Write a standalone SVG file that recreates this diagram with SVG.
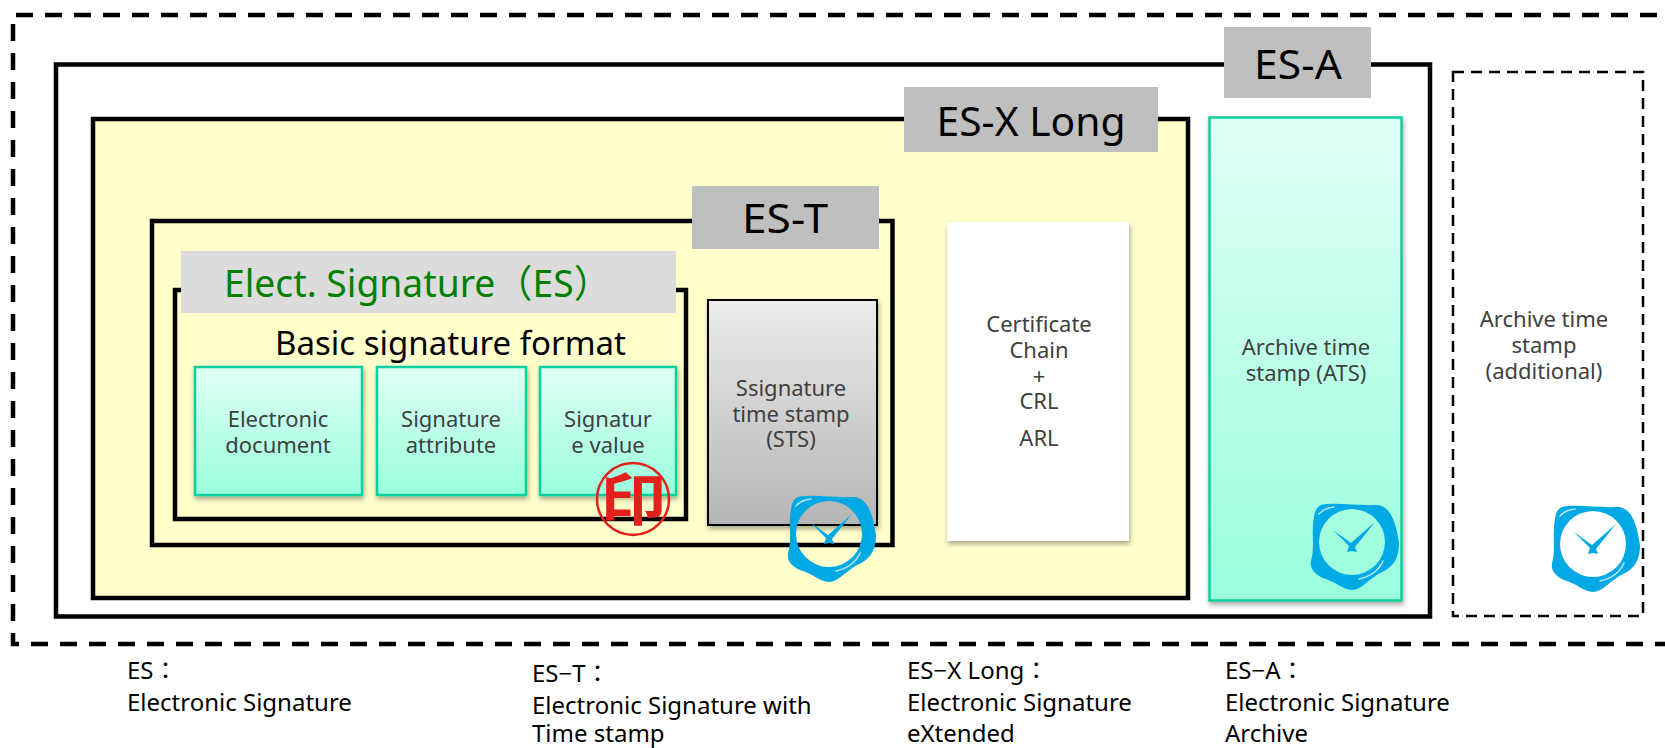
<svg xmlns="http://www.w3.org/2000/svg" xmlns:xlink="http://www.w3.org/1999/xlink" width="1665" height="748" viewBox="0 0 1665 748">
<style>
text{font-family:"Noto Sans","Liberation Sans","Noto Sans CJK JP",sans-serif}
.frame{fill:none;stroke:#000;stroke-width:4.5}
.tag{fill:#bfbfbf}
.big{font-size:40px;fill:#000;text-anchor:middle}
.cell{fill:url(#mint);stroke:#0fd0a0;stroke-width:2.5;filter:url(#sh)}
.t{font-size:22px;fill:#404040;text-anchor:middle}
.note{font-size:24px;fill:#000;font-family:"Noto Sans","Noto Sans CJK JP",sans-serif}
</style>
<defs>
<linearGradient id="mint" x1="0" y1="0" x2="0" y2="1"><stop offset="0" stop-color="#e0fff3"/><stop offset="1" stop-color="#99ffdc"/></linearGradient>
<linearGradient id="grey" x1="0" y1="0" x2="0" y2="1"><stop offset="0" stop-color="#ececec"/><stop offset="1" stop-color="#b5b5b5"/></linearGradient>
<filter id="sh" x="-10%" y="-10%" width="120%" height="120%"><feDropShadow dx="1" dy="3" stdDeviation="2.5" flood-color="#000" flood-opacity=".35"/></filter>
<g id="clock">
<path fill="#00a9e3" fill-rule="evenodd" d="M10 2C25 -1 45 3 66 2C80 3 85 20 88 40C88 60 78 66 69 70C58 76 50 87 41 87C32 87 24 78 12 75C2 70 -1 65 0 58C4 45 0 30 3 14C4 7 6 4 10 2ZM41 6A33 33 0 1 0 41 72A33 33 0 1 0 41 6Z"/>
<path fill="none" stroke="#fff" stroke-opacity=".7" stroke-width="1.6" stroke-linecap="round" d="M8 11Q13 5 23 4M48 76Q66 72 72 58"/>
<path fill="#00a9e3" d="M64 19L44 44L46 49L41 48L36 49L38 43L22 27L40 40Z"/>
</g>
</defs>
<rect width="1665" height="748" fill="#fff"/>
<g id="outer-frame"><path fill="none" stroke="#000" stroke-width="4.5" stroke-dasharray="17 12" d="M16 15H1665M13 24V644H1665"/></g>
<g id="es-a">
<rect class="frame" x="56" y="64.500" width="1374" height="552"/>
<rect x="1224" y="27" width="147" height="71" class="tag"/>
<text x="1298" y="79" class="big" textLength="88" lengthAdjust="spacingAndGlyphs">ES-A</text>
</g>
<g id="es-x-long">
<rect x="93" y="119" width="1095" height="479" fill="#ffffcc" stroke="#000" stroke-width="4.500"/>
<rect x="904" y="87" width="254" height="65" class="tag"/>
<text x="1031" y="136" class="big" textLength="189" lengthAdjust="spacingAndGlyphs">ES-X Long</text>
</g>
<g id="es-t">
<rect class="frame" x="152" y="221" width="740.500" height="324"/>
<rect x="692" y="186" width="187" height="63" class="tag"/>
<text x="785" y="233" class="big" textLength="86" lengthAdjust="spacingAndGlyphs">ES-T</text>
</g>
<g id="es">
<rect class="frame" x="175" y="290" width="511" height="229"/>
<rect x="181" y="251" width="495" height="62" fill="#dcdcdc"/>
<text x="224" y="297" font-size="38" fill="#008000" textLength="387" lengthAdjust="spacingAndGlyphs" style="font-family:'Noto Sans','Noto Sans CJK JP',sans-serif">Elect. Signature（ES）</text>
<text x="275" y="355" font-size="33" fill="#000" textLength="351" lengthAdjust="spacingAndGlyphs">Basic signature format</text>
</g>
<g id="electronic-document">
<rect class="cell" x="195" y="367" width="167" height="128"/>
<text class="t" x="278" y="427">Electronic</text><text class="t" x="278" y="453">document</text>
</g>
<g id="signature-attribute">
<rect class="cell" x="377" y="367" width="149" height="128"/>
<text class="t" x="451" y="427">Signature</text><text class="t" x="451" y="453">attribute</text>
</g>
<g id="signature-value">
<rect class="cell" x="540" y="367" width="136" height="128"/>
<text class="t" x="608" y="427">Signatur</text><text class="t" x="608" y="453">e value</text>
</g>
<g id="seal">
<ellipse cx="633" cy="499" rx="36" ry="36" fill="none" stroke="#e3201b" stroke-width="2.500"/>
<text x="633" y="520" font-size="56" font-weight="700" fill="#e3201b" text-anchor="middle" textLength="66" lengthAdjust="spacingAndGlyphs" style="font-family:'Noto Sans CJK JP',sans-serif">印</text>
</g>
<g id="sts">
<rect x="708" y="300" width="169" height="225" fill="url(#grey)" stroke="#000" stroke-width="2" filter="url(#sh)"/>
<text class="t" x="791" y="396">Ssignature</text><text class="t" x="791" y="422">time stamp</text><text class="t" x="791" y="447">(STS)</text>
<use href="#clock" xlink:href="#clock" x="788" y="495"/>
</g>
<g id="certificate">
<rect x="947" y="222" width="182" height="319" fill="#fff" filter="url(#sh)"/>
<text class="t" x="1039" y="332">Certificate</text><text class="t" x="1039" y="358">Chain</text><text class="t" x="1039" y="384">+</text><text class="t" x="1039" y="409">CRL</text><text class="t" x="1039" y="446">ARL</text>
</g>
<g id="ats">
<rect class="cell" x="1209.500" y="117.500" width="192" height="483"/>
<text class="t" x="1306" y="355">Archive time</text><text class="t" x="1306" y="381">stamp (ATS)</text>
<use href="#clock" xlink:href="#clock" x="1311" y="503"/>
</g>
<g id="archive-additional">
<rect x="1453" y="72" width="190" height="544" fill="none" stroke="#000" stroke-width="2.500" stroke-dasharray="11 7"/>
<text class="t" x="1544" y="327">Archive time</text><text class="t" x="1544" y="353">stamp</text><text class="t" x="1544" y="379">(additional)</text>
<use href="#clock" xlink:href="#clock" x="1552" y="505"/>
</g>
<g id="legend">
<text class="note" x="127" y="679">ES：</text><text class="note" x="127" y="711">Electronic Signature</text>
<text class="note" x="532" y="682">ES−T：</text><text class="note" x="532" y="714">Electronic Signature with</text><text class="note" x="532" y="742">Time stamp</text>
<text class="note" x="907" y="679">ES−X Long：</text><text class="note" x="907" y="711">Electronic Signature</text><text class="note" x="907" y="742">eXtended</text>
<text class="note" x="1225" y="679">ES−A：</text><text class="note" x="1225" y="711">Electronic Signature</text><text class="note" x="1225" y="742">Archive</text>
</g>
</svg>
